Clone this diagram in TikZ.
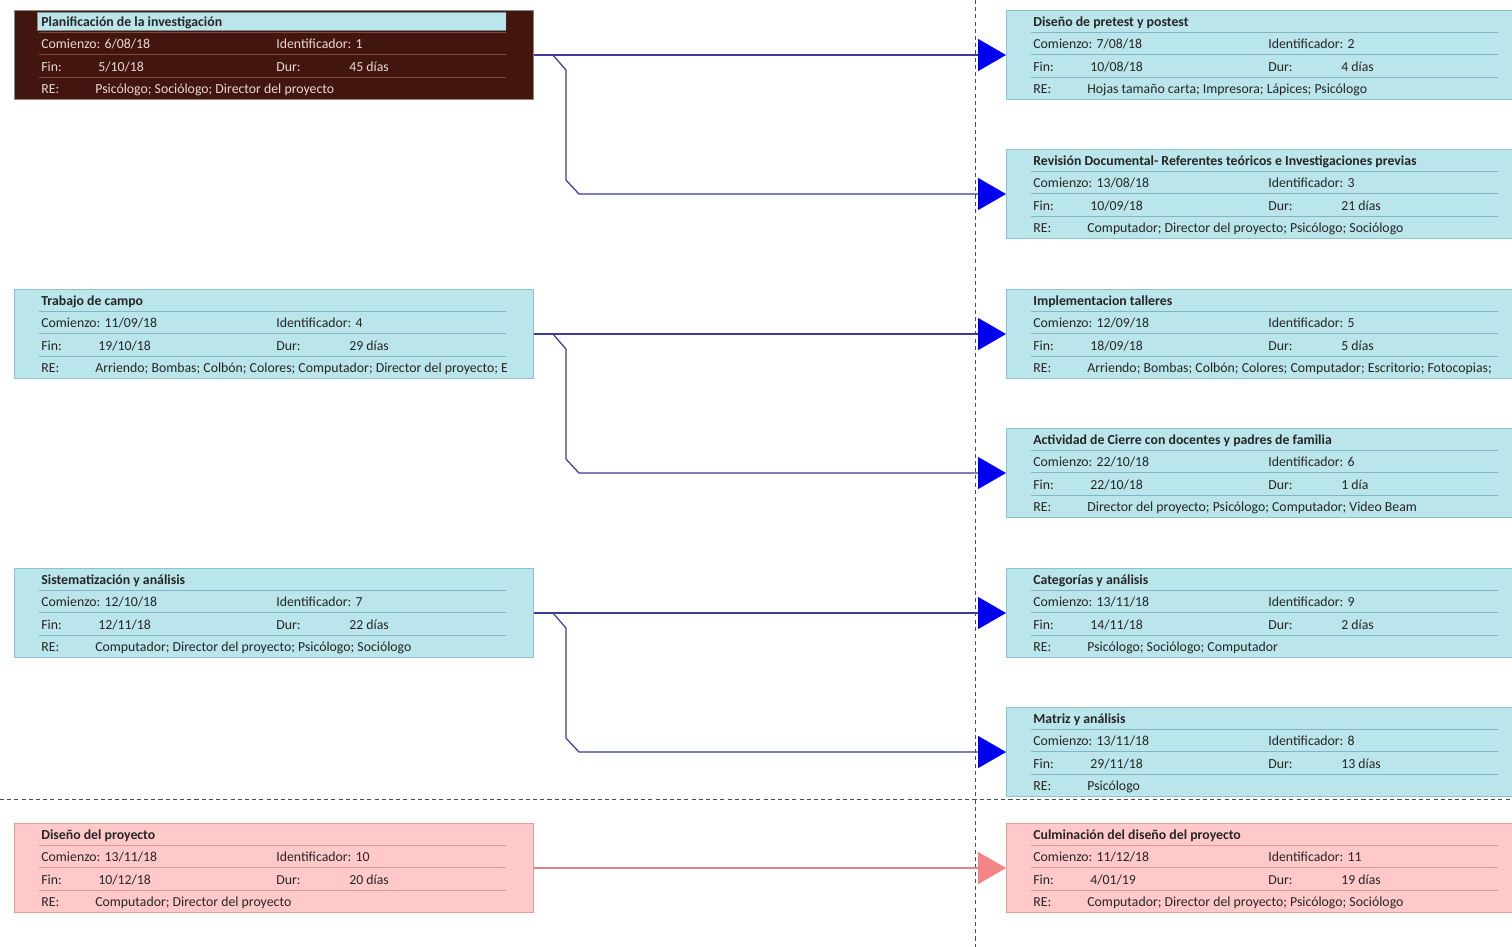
\documentclass[tikz,border=0pt]{standalone}
\usepackage{fontspec}
\setmainfont{Carlito}
\usetikzlibrary{arrows.meta,calc}
\definecolor{ink}{HTML}{262626}
\definecolor{cyanfill}{HTML}{BAE5EA}
\definecolor{cyanline}{HTML}{8CC3CC}
\definecolor{cyansep}{HTML}{82B5C4}
\definecolor{brownfill}{HTML}{43150F}
\definecolor{brownline}{HTML}{8A8A8A}
\definecolor{brownsep}{HTML}{7D4A3C}
\definecolor{paletxt}{HTML}{E8D9D2}
\definecolor{selfill}{HTML}{BAE5EA}
\definecolor{selline}{HTML}{7E8C90}
\definecolor{pinkfill}{HTML}{FFC9C9}
\definecolor{pinkline}{HTML}{E29C9C}
\definecolor{pinksep}{HTML}{DE9A9A}
\definecolor{linkcol}{HTML}{3B3B9C}
\definecolor{arrowblue}{HTML}{0000EE}
\definecolor{pinkarrow}{HTML}{F28585}
\definecolor{pinklinkcol}{HTML}{E38383}
\definecolor{divcol}{HTML}{4A4A4A}
\newcommand{\boxfont}{\fontsize{7.85pt}{9pt}\selectfont}
% one task box: name, look, top-left corner, title, start, id, end, duration, resources
\newcommand{\tarea}[9]{%
  \begin{scope}[#2]
    \node[taskbox, anchor=north west] (#1) at (#3) {};
    \begin{scope}[shift={(#1.north west)}]
      \clip (0,0) rectangle (492,89);
      \path[titlebar] (23,2) rectangle (492,20);
      \foreach \yy in {22,44,67} \draw[sep] (25,\yy) -- (493,\yy);
      \node[txt, titletxt] (#1-t) at (27,16.3) {#4};
      \node[txt] (#1-c) at (27,38.3) {Comienzo: #5};
      \node[txt] (#1-id) at (262,38.3) {Identificador: #6};
      \node[txt] (#1-f) at (27,61.3) {Fin:};
      \node[txt] (#1-fv) at (84,61.3) {#7};
      \node[txt] (#1-d) at (262,61.3) {Dur:};
      \node[txt] (#1-dv) at (335,61.3) {#8};
      \node[txt] (#1-r) at (27,83.3) {RE:};
      \node[txt] (#1-rv) at (81,83.3) {#9};
    \end{scope}
  \end{scope}}

\begin{document}
\begin{tikzpicture}[
  x=0.02cm, y=-0.02cm,
  taskbox/.style={rectangle, draw=cyanline, fill=cyanfill, line width=0.6pt,
    minimum width=10.38cm, minimum height=1.78cm, inner sep=0pt},
  sep/.style={draw=cyansep, line width=0.55pt},
  titlebar/.style={},
  rowtxt/.style={text=ink},
  txt/.style={anchor=base west, inner sep=0pt, font=\boxfont, rowtxt},
  titletxt/.style={font=\boxfont\bfseries, text=ink},
  cyanbox/.style={},
  brownbox/.style={taskbox/.append style={fill=brownfill, draw=brownline},
    sep/.style={draw=brownsep, line width=0.55pt},
    rowtxt/.style={text=paletxt},
    titlebar/.style={fill=selfill, draw=selline, line width=0.4pt}},
  pinkbox/.style={taskbox/.append style={fill=pinkfill, draw=pinkline},
    sep/.style={draw=pinksep, line width=0.55pt}},
  divider/.style={draw=divcol, line width=0.55pt, dash pattern=on 2.3pt off 1.8pt},
  link/.style={draw=linkcol, line width=0.7pt,
    -{Triangle[length=0.56cm, width=0.64cm, color=arrowblue]}},
  pinklink/.style={draw=pinklinkcol, line width=0.8pt,
    -{Triangle[length=0.56cm, width=0.64cm, color=pinkarrow]}}
]
\clip (0,0) rectangle (1512,947);
\fill[white] (0,0) rectangle (1512,947);

%% ---------- page breaks ----------
\draw[divider] (975,0) -- (975,947);
\draw[divider] (0,799) -- (1512,799);

%% ---------- left column ----------
\tarea{plan}{brownbox}{14,10}{Planificación de la investigación}{6/08/18}{1}{5/10/18}{45 días}{Psicólogo; Sociólogo; Director del proyecto}
\tarea{campo}{cyanbox}{14,289}{Trabajo de campo}{11/09/18}{4}{19/10/18}{29 días}{Arriendo; Bombas; Colbón; Colores; Computador; Director del proyecto; Escritorio}
\tarea{sist}{cyanbox}{14,568}{Sistematización y análisis}{12/10/18}{7}{12/11/18}{22 días}{Computador; Director del proyecto; Psicólogo; Sociólogo}
\tarea{diseno}{pinkbox}{14,823}{Diseño del proyecto}{13/11/18}{10}{10/12/18}{20 días}{Computador; Director del proyecto}

%% ---------- right column ----------
\tarea{pretest}{cyanbox}{1006,10}{Diseño de pretest y postest}{7/08/18}{2}{10/08/18}{4 días}{Hojas tamaño carta; Impresora; Lápices; Psicólogo}
\tarea{revision}{cyanbox}{1006,149}{Revisión Documental- Referentes teóricos e Investigaciones previas}{13/08/18}{3}{10/09/18}{21 días}{Computador; Director del proyecto; Psicólogo; Sociólogo}
\tarea{talleres}{cyanbox}{1006,289}{Implementacion talleres}{12/09/18}{5}{18/09/18}{5 días}{Arriendo; Bombas; Colbón; Colores; Computador; Escritorio; Fotocopias;}
\tarea{cierre}{cyanbox}{1006,428}{Actividad de Cierre con docentes y padres de familia}{22/10/18}{6}{22/10/18}{1 día}{Director del proyecto; Psicólogo; Computador; Video Beam}
\tarea{categ}{cyanbox}{1006,568}{Categorías y análisis}{13/11/18}{9}{14/11/18}{2 días}{Psicólogo; Sociólogo; Computador}
\tarea{matriz}{cyanbox}{1006,707}{Matriz y análisis}{13/11/18}{8}{29/11/18}{13 días}{Psicólogo}
\tarea{culmin}{pinkbox}{1006,823}{Culminación del diseño del proyecto}{11/12/18}{11}{4/01/19}{19 días}{Computador; Director del proyecto; Psicólogo; Sociólogo}

%% ---------- links ----------
\draw[link] (plan.east) -- (pretest.west);
\draw[link] (plan.east) -- ++(19,0) -- ++(13,15)
  -- ($(plan.east |- revision.west)+(32,-14)$) -- ++(13,14) -- (revision.west);

\draw[link] (campo.east) -- (talleres.west);
\draw[link] (campo.east) -- ++(19,0) -- ++(13,15)
  -- ($(campo.east |- cierre.west)+(32,-14)$) -- ++(13,14) -- (cierre.west);

\draw[link] (sist.east) -- (categ.west);
\draw[link] (sist.east) -- ++(19,0) -- ++(13,15)
  -- ($(sist.east |- matriz.west)+(32,-14)$) -- ++(13,14) -- (matriz.west);

\draw[pinklink] (diseno.east) -- (culmin.west);

\end{tikzpicture}
\end{document}
